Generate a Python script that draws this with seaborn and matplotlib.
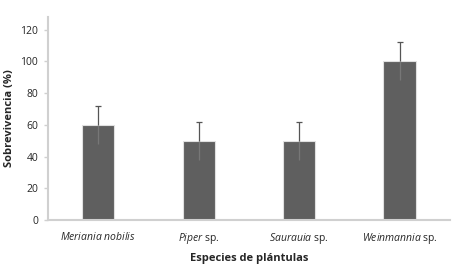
import matplotlib
matplotlib.use("Agg")
import matplotlib.pyplot as plt
import seaborn as sns
import pandas as pd

species = ["Meriania nobilis", "Piper sp.", "Saurauia sp.", "Weinmannia sp."]
survival = [60, 50, 50, 100]
err = [12, 12, 12, 12]
tick_labels = [r"$\it{Meriania\ nobilis}$", r"$\it{Piper}$ sp.", r"$\it{Saurauia}$ sp.", r"$\it{Weinmannia}$ sp."]

sns.set_style("white")
plt.rcParams['font.family'] = ['Open Sans', 'DejaVu Sans']
plt.rcParams['mathtext.fontset'] = 'custom'
plt.rcParams['mathtext.it'] = 'Open Sans:italic'
plt.rcParams['mathtext.rm'] = 'Open Sans'

df = pd.DataFrame({"species": species, "survival": survival})
fig = plt.figure(figsize=(4.7, 2.65), dpi=100)
ax = fig.add_axes([0.102, 0.170, 0.855, 0.766])
sns.barplot(data=df, x="species", y="survival", color="#5f5f5f", width=0.32,
            errorbar=None, edgecolor="#e0e0e0", linewidth=0.8, ax=ax, saturation=1)
xs = list(range(len(species)))
tops = [v + e for v, e in zip(survival, err)]
ax.errorbar(xs, survival, yerr=[[0]*4, err], fmt="none", ecolor="#555555", elinewidth=0.9, capsize=0)
ax.errorbar(xs, survival, yerr=[err, [0]*4], fmt="none", ecolor="#777777", elinewidth=0.9, capsize=0)
ax.plot(xs, tops, linestyle="none", marker="_", markersize=5, markeredgewidth=0.9, color="#555555")

ax.set_ylim(0, 128)
ax.set_xlim(-0.5, 3.5)
ax.set_yticks([0, 20, 40, 60, 80, 100, 120])
ax.tick_params(axis="y", labelsize=7.5, length=3, color="#d0d0d0", width=1, pad=4, left=True)
ax.tick_params(axis="x", labelsize=7.5, length=0, pad=8)
ax.set_xticks(xs)
ax.set_xticklabels(tick_labels)
for s in ["top", "right"]:
    ax.spines[s].set_visible(False)
for s in ["left", "bottom"]:
    ax.spines[s].set_color("#d0d0d0")
    ax.spines[s].set_linewidth(1.5)
ax.set_xlabel("Especies de plántulas", fontsize=8, fontweight="bold", labelpad=5)
ax.set_ylabel("Sobrevivencia (%)", fontsize=8, fontweight="bold", labelpad=4)
fig.savefig("out.png", dpi=100)
